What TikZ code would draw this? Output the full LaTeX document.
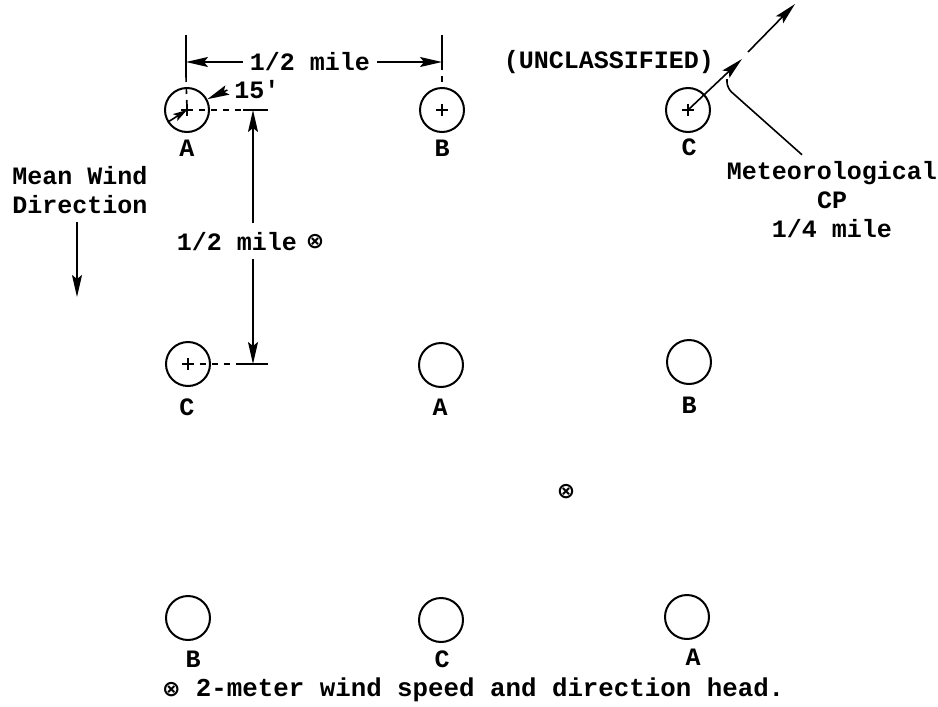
\documentclass[tikz,border=0pt]{standalone}
\usepackage{fontspec}
\setmonofont{Liberation Mono}
\newfontfamily\symfont{DejaVu Sans}
\usetikzlibrary{arrows.meta, positioning}

\newcommand{\headmark}{{\symfont\bfseries ⊗}}

\tikzset{
  well/.style={draw, circle, line width=1pt, minimum size=22pt, inner sep=0pt},
  lbl/.style={font=\ttfamily\bfseries\fontsize{12.5}{14.5}\selectfont},
  dim/.style={line width=0.8pt},
}

\begin{document}
\begin{tikzpicture}[x=0.5pt, y=-0.5pt, >={Stealth[length=11pt,width=5pt,inset=2pt]}]
  \useasboundingbox (0,0) rectangle (938,707);
  % Wells, three rows of three
  \node[well] (w11) at (187,110) {};
  \node[well] (w12) at (442,110) {};
  \node[well] (w13) at (688,110) {};
  \node[well] (w21) at (188,364) {};
  \node[well] (w22) at (441,365) {};
  \node[well] (w23) at (689,362) {};
  \node[well] (w31) at (188,618) {};
  \node[well] (w32) at (441,620) {};
  \node[well] (w33) at (687,617) {};
  \foreach \w in {w11,w12,w13,w21}
    \draw[dim] (\w.center) ++(-6,0) -- ++(12,0) (\w.center) ++(0,-6) -- ++(0,12);
  % Well letters
  \node[lbl] (l11) at (187,148) {A};
  \node[lbl] (l12) at (442,148) {B};
  \node[lbl] (l13) at (689,147) {C};
  \node[lbl] (l21) at (187,407) {C};
  \node[lbl] (l22) at (440,407) {A};
  \node[lbl] (l23) at (689,405) {B};
  \node[lbl] (l31) at (193,659) {B};
  \node[lbl] (l32) at (442,659) {C};
  \node[lbl] (l33) at (693,657) {A};

  % Spacing across the top
  \coordinate (tA) at (186,35);
  \coordinate (tB) at (442,35);
  \draw[dim] (tA) -- (186,76);
  \draw[dim, dashed] (186,76) -- (w11.center);
  \draw[dim] (tB) -- (442,64);
  \draw[dim, dashed] (442,64) -- (w12.north);
  \node[lbl] (half1) at (310,62) {1/2 mile};
  \draw[dim, ->] (half1.west) -- (tA |- half1);
  \draw[dim, ->] (half1.east) -- (tB |- half1);
  % Well radius
  \node[lbl] (r15) at (257,90) {15'};
  \draw[dim, ->] (r15.west) -- (w11.28);
  \coordinate (rr) at (168,122);
  \draw[dim, -{Stealth[length=7pt,width=4pt,inset=1.5pt]}] (rr) -- (w11.center);

  % Spacing down the side
  \coordinate (vt) at (253,110);
  \coordinate (vb) at (253,364);
  \draw[dim, dashed] (w11.center) -- (243,110);
  \draw[dim] (243,110) -- (268,110);
  \draw[dim, dashed] (w21.center) -- (236,364);
  \draw[dim] (236,364) -- (268,364);
  \node[lbl] (half2) at (237,242) {1/2 mile};
  \draw[dim, ->] (vt |- 0,223) -- (vt);
  \draw[dim, ->] (vb |- 0,259) -- (vb);
  \node[font=\fontsize{11}{13}\selectfont] (head1) at (315,242) {\headmark};
  \node[font=\fontsize{11}{13}\selectfont] (head2) at (566,492) {\headmark};

  % Wind
  \node[lbl, align=center] (wind) at (80,190) {Mean Wind\\Direction};
  \coordinate (windtip) at (77,297);
  \draw[dim, ->] (77,222) -- (windtip);

  \node[lbl] (unc) at (609,62) {(UNCLASSIFIED)};

  % Meteorological CP
  \node[lbl, align=center] (met) at (832,200) {Meteorological\\CP\\1/4 mile};
  \coordinate (m1) at (742,59);
  \coordinate (m2) at (748,52);
  \coordinate (m3) at (795,4);
  \draw[dim, ->] (w13.center) -- (m1);
  \draw[dim, ->] (m2) -- (m3);
  \draw[dim, rounded corners=3pt] ([xshift=-15pt]met.north) -- (727,88) -- (727,79);

  \node[lbl, font=\ttfamily\bfseries\fontsize{12.9}{15}\selectfont, anchor=west] (note) at (155,690)
    {{\fontsize{11}{13}\selectfont\headmark} 2-meter wind speed and direction head.};
\end{tikzpicture}
\end{document}
